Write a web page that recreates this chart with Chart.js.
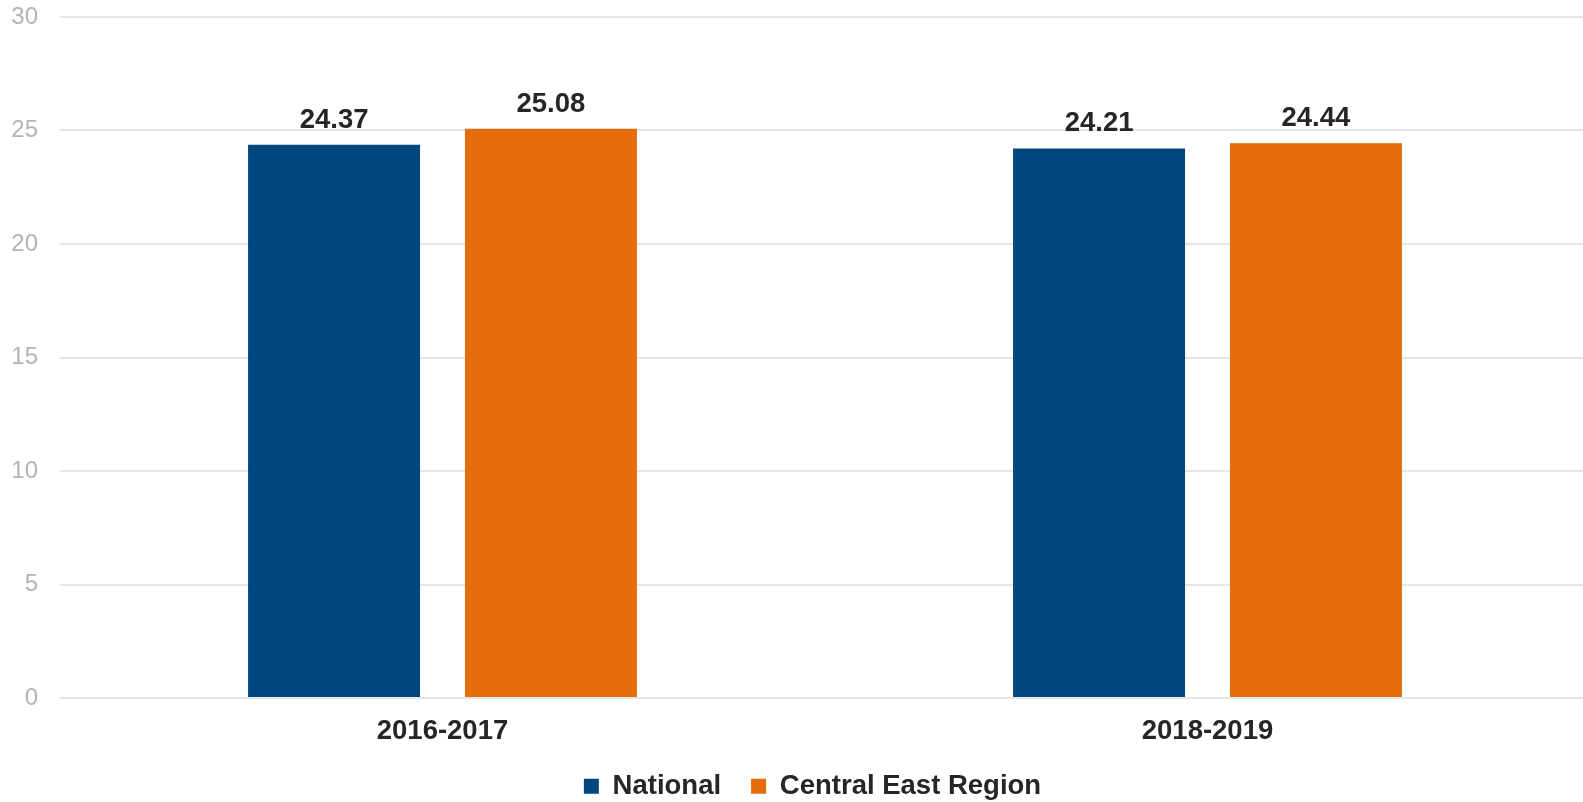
<!DOCTYPE html>
<html>
<head>
<meta charset="utf-8">
<script src="https://cdn.jsdelivr.net/npm/chart.js@4.4.0/dist/chart.umd.min.js"></script>
<style>
  html, body { margin: 0; padding: 0; background: #fff; }
  #wrap { width: 1583px; height: 802px; position: relative; }
</style>
</head>
<body>
<div id="wrap"><canvas id="barChart"></canvas></div>
<script>
// values
const periods = ["2016-2017", "2018-2019"];
const national = [24.37, 24.21];
const centralEast = [25.08, 24.44];
const yTicks = [0, 5, 10, 15, 20, 25, 30];

const FONT = "'Liberation Sans', Arial, sans-serif";

// draws the number above each bar
const valueLabels = {
  id: 'valueLabels',
  afterDatasetsDraw(chart) {
    const ctx = chart.ctx;
    ctx.save();
    ctx.font = "bold 27.5px " + FONT;
    ctx.fillStyle = "#262626";
    ctx.textAlign = "center";
    ctx.textBaseline = "alphabetic";
    chart.data.datasets.forEach(function(ds, i) {
      chart.getDatasetMeta(i).data.forEach(function(bar, j) {
        ctx.fillText(ds.data[j].toFixed(2), bar.x, bar.y - 17);
      });
    });
    ctx.restore();
  }
};

// small nudges: category axis runs a bit past the right edge, legend sits a bit right of centre
const nudge = {
  id: 'nudge',
  afterLayout(chart) {
    const x = chart.scales.x;
    x.right += 7;
    x.width += 7;
    x.configure();
    chart.legend.left += 21;
    chart.legend.right += 21;
    chart.legend.top += 1.5;
    chart.legend.bottom += 1.5;
  }
};

var ctx = document.getElementById('barChart').getContext('2d');
var barChart = new Chart(ctx, {
  type: 'bar',
  data: {
    labels: periods,
    datasets: [{
      label: "National",
      data: national,
      backgroundColor: "#00467F",
      categoryPercentage: 0.567,
      barPercentage: 0.793
    }, {
      label: "Central East Region",
      data: centralEast,
      backgroundColor: "#E46C0A",
      categoryPercentage: 0.567,
      barPercentage: 0.793
    }]
  },
  options: {
    responsive: true,
    maintainAspectRatio: false,
    animation: false,
    layout: {
      padding: { top: 0, left: 0, right: 0, bottom: -6.5 }
    },
    plugins: {
      legend: {
        position: 'bottom',
        labels: {
          boxWidth: 15,
          boxHeight: 15,
          padding: 30,
          color: "#262626",
          font: { family: FONT, size: 27.5, weight: 'bold' }
        }
      },
      tooltip: { enabled: false }
    },
    scales: {
      x: {
        grid: { display: false, drawTicks: false },
        border: { display: false },
        afterFit: function(axis) { axis.height = 43; },
        ticks: {
          color: "#262626",
          padding: 16.5,
          font: { family: FONT, size: 27.5, weight: 'bold' }
        }
      },
      y: {
        min: 0,
        max: 30,
        afterBuildTicks: function(axis) {
          axis.ticks = yTicks.map(function(v) { return { value: v }; });
        },
        afterFit: function(axis) {
          axis.width = 60;
          axis.paddingTop = 17;
          axis.paddingBottom = 0;
        },
        grid: { color: "#e6e6e6", lineWidth: 2, drawTicks: false },
        border: { display: false },
        ticks: {
          color: "#b3b3b3",
          padding: 22,
          font: { family: FONT, size: 24 }
        }
      }
    }
  },
  plugins: [valueLabels, nudge]
});
</script>
</body>
</html>
